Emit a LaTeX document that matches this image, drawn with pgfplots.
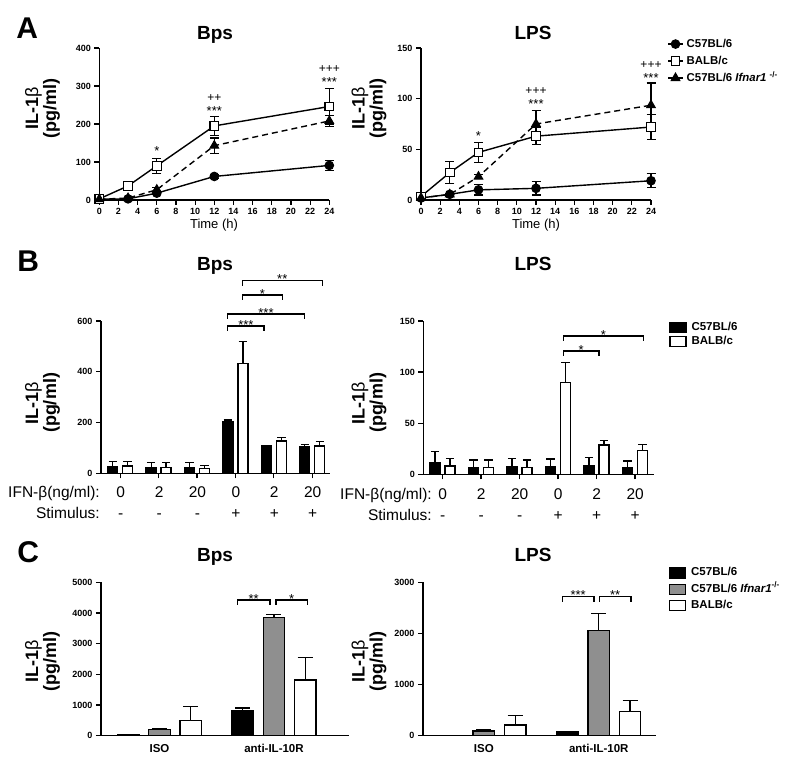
\documentclass[border=0pt]{standalone}
\usepackage{pgfplots}
\pgfplotsset{compat=1.18}
\usepackage{fontspec}
\setmainfont{Liberation Sans}
\newcommand{\fs}[1]{\fontsize{#1}{#1}\selectfont}
\definecolor{gbar}{RGB}{143,143,143}
\pgfplotsset{
  base/.style={
    scale only axis, anchor=south west, clip=false,
    axis lines=left, axis line style={line width=1.4pt,-},
    tick style={black, line width=1.2pt},
    tick align=outside, major tick length=5pt,
    tick label style={font=\fs{9}\bfseries},
    /pgf/number format/assume math mode=true,
    /pgf/number format/1000 sep={},
    scaled y ticks=false,
  },
  aplot/.style={black, line width=1.4pt,
    error bars/y dir=both, error bars/y explicit,
    error bars/error bar style={line width=1.2pt, solid},
    error bars/error mark options={rotate=90, mark size=4.5pt, line width=1.2pt, solid}},
  bplot/.style={ybar, bar width=10pt, bar shift=0pt, draw=black, line width=1.3pt,
    error bars/y dir=plus, error bars/y explicit,
    error bars/error bar style={line width=1.2pt},
    error bars/error mark options={rotate=90, mark size=4.2pt, line width=1.2pt}},
  cplot/.style={ybar, bar width=21.5pt, bar shift=0pt, draw=black, line width=1.3pt,
    error bars/y dir=plus, error bars/y explicit,
    error bars/error bar style={line width=1.2pt},
    error bars/error mark options={rotate=90, mark size=7.5pt, line width=1.2pt}},
  boxlegend/.style={legend image code/.code={\draw[##1, line width=1.3pt] (0pt,-5pt) rectangle (16pt,5pt);}},
}
\newcommand{\brk}[4]{%
  \draw[line width=1.1pt] (#1,{763-#3-5}) -- (#1,{763-#3}) -- (#2,{763-#3}) -- (#2,{763-#3-5});
  \node[font=\fs{13}, anchor=base, inner sep=0pt] at ({(#1+#2)/2},{763-#3-3.2}) {#4};}
\newcommand{\st}[3]{\node[font=\fs{13}, anchor=base, inner sep=0pt] at (#1,{763-#2-7.5}) {#3};}
\newcommand{\pl}[3]{\node[font=\fs{12}, anchor=base, inner sep=0pt] at (#1,{763-#2-4.2}) {#3};}
\newcommand{\ylab}[2]{\node[font=\fs{18}\bfseries, rotate=90, align=center, inner sep=0pt] at (#1,#2) {IL-1\textmd{β}\\[0pt](pg/ml)};}
\begin{document}
\begin{tikzpicture}[x=1pt,y=1pt]
\path[use as bounding box, fill=white] (0,0) rectangle (800,763);

% ---------------- Panel A, Bps
\begin{axis}[base, at={(99.3pt,563pt)}, width=230pt, height=152pt,
  xmin=0, xmax=24, ymin=0, ymax=400, xtick={0,2,...,24}, ytick={0,100,...,400}]
\addplot[aplot, mark=*, mark size=4.3pt, mark options={solid, fill=black, line width=1pt}]
 coordinates {(0,2)+-(0,1) (3,3)+-(0,2) (6,18)+-(0,4) (12,62)+-(0,5) (24,91)+-(0,13)};
\addplot[aplot, mark=square*, mark size=4.3pt, mark options={solid, fill=white, line width=1.1pt}]
 coordinates {(0,3)+-(0,3) (3,37)+-(0,4) (6,90)+-(0,20) (12,195)+-(0,25) (24,246)+-(0,48)};
\addplot[aplot, dash pattern=on 6pt off 4pt, mark=triangle*, mark size=5pt, mark options={solid, fill=black, line width=1pt}]
 coordinates {(0,2)+-(0,1) (3,5)+-(0,2) (6,27)+-(0,5) (12,143)+-(0,20) (24,208)+-(0,14)};
\end{axis}

% ---------------- Panel A, LPS
\begin{axis}[base, at={(421pt,563pt)}, width=230pt, height=152pt,
  xmin=0, xmax=24, ymin=0, ymax=150, xtick={0,2,...,24}, ytick={0,50,100,150},
  legend style={at={(1.07,1.06)}, anchor=north west, draw=none, fill=none,
    font=\fs{11.4}\bfseries, row sep=7pt, inner sep=0pt, column sep=2pt,
    nodes={inner ysep=0pt, inner xsep=1pt, text height=8pt, text depth=2pt}},
  legend cell align=left,
  legend image code/.code={\draw[mark repeat=2,mark phase=2,#1] plot coordinates {(0pt,0pt) (7.5pt,0pt) (15pt,0pt)};}]
\addplot[aplot, mark=*, mark size=4.3pt, mark options={solid, fill=black, line width=1pt}]
 coordinates {(0,2)+-(0,1) (3,5.6)+-(0,1) (6,10)+-(0,5) (12,11.5)+-(0,6.5) (24,19)+-(0,7)};
\addplot[aplot, mark=square*, mark size=4.3pt, mark options={solid, fill=white, line width=1.1pt}]
 coordinates {(0,3.5)+-(0,2) (3,27)+-(0,11) (6,47)+-(0,10) (12,63)+-(0,8.5) (24,72)+-(0,12)};
\addplot[aplot, dash pattern=on 6pt off 4pt, mark=triangle*, mark size=5pt, mark options={solid, fill=black, line width=1pt}]
 coordinates {(0,2)+-(0,1) (3,5.5)+-(0,1) (6,23)+-(0,2) (12,75)+-(0,13) (24,93.5)+-(0,22)};
\legend{C57BL/6, BALB/c, C57BL/6 \textit{Ifnar1} \textsuperscript{-/-}}
\end{axis}

% ---------------- Panel B, Bps
\begin{axis}[base, at={(101pt,289.7pt)}, width=228.5pt, height=152.3pt,
  xmin=-0.5, xmax=5.45, ymin=0, ymax=600, xtick={0,...,5}, xticklabels={,,,,,}, ytick={0,200,400,600}]
\addplot[bplot, fill=black] coordinates {(-0.195,26)+-(0,20) (0.805,22)+-(0,20) (1.805,22)+-(0,20) (2.805,203)+-(0,7) (3.805,107)+-(0,4) (4.805,104)+-(0,9)};
\addplot[bplot, fill=white] coordinates {(0.195,29)+-(0,17) (1.195,22)+-(0,20) (2.195,18)+-(0,13) (3.195,433)+-(0,86) (4.195,127)+-(0,15) (5.195,108)+-(0,17)};
\end{axis}

% ---------------- Panel B, LPS
\begin{axis}[base, at={(423.3pt,288.7pt)}, width=230.6pt, height=153.3pt,
  xmin=-0.5, xmax=5.49, ymin=0, ymax=150, xtick={0,...,5}, xticklabels={,,,,,}, ytick={0,50,100,150},
  boxlegend, legend style={at={(1.0655,0.9954)}, anchor=north west, draw=none, fill=none,
    font=\fs{11.5}\bfseries, row sep=2.5pt, inner sep=0pt, column sep=4pt,
    nodes={inner ysep=0pt, inner xsep=1pt, text height=8pt, text depth=2pt}},
  legend cell align=left]
\addplot[bplot, fill=black] coordinates {(-0.195,11.4)+-(0,10.6) (0.805,6.8)+-(0,7.2) (1.805,7.8)+-(0,7.8) (2.805,7.8)+-(0,7.2) (3.805,8.5)+-(0,7.8) (4.805,6.5)+-(0,6.5)};
\addplot[bplot, fill=white] coordinates {(0.195,8)+-(0,7.6) (1.195,6.8)+-(0,7.2) (2.195,6.8)+-(0,7.2) (3.195,89.7)+-(0,19.5) (4.195,28.7)+-(0,4.3) (5.195,23)+-(0,6.3)};
\legend{C57BL/6, BALB/c}
\end{axis}

% ---------------- Panel C, Bps
\begin{axis}[base, at={(101pt,27.3pt)}, width=248.3pt, height=153.4pt,
  xmin=-0.511, xmax=1.658, ymin=0, ymax=5000, xtick={0,1}, xticklabels={ISO,anti-IL-10R},
  xticklabel style={font=\fs{11.5}\bfseries}, xtick style={draw=none},
  ytick={0,1000,...,5000}]
\addplot[cplot, fill=black] coordinates {(-0.273,30)+-(0,15) (0.727,830)+-(0,70)};
\addplot[cplot, fill=gbar] coordinates {(0,200)+-(0,45) (1,3850)+-(0,100)};
\addplot[cplot, fill=white] coordinates {(0.273,500)+-(0,460) (1.273,1820)+-(0,720)};
\end{axis}

% ---------------- Panel C, LPS
\begin{axis}[base, at={(423pt,27.3pt)}, width=233.1pt, height=153.4pt,
  xmin=-0.53, xmax=1.499, ymin=0, ymax=3000, xtick={0,1}, xticklabels={ISO,anti-IL-10R},
  xticklabel style={font=\fs{11.5}\bfseries}, xtick style={draw=none},
  ytick={0,1000,2000,3000},
  boxlegend, legend style={at={(1.054,1.0997)}, anchor=north west, draw=none, fill=none,
    font=\fs{11.5}\bfseries, row sep=5pt, inner sep=0pt, column sep=4pt,
    nodes={inner ysep=0pt, inner xsep=1pt, text height=8pt, text depth=2pt}},
  legend cell align=left]
\addplot[cplot, fill=black] coordinates {(-0.272,0)+-(0,0) (0.728,75)+-(0,15)};
\addplot[cplot, fill=gbar] coordinates {(0,90)+-(0,30) (1,2060)+-(0,330)};
\addplot[cplot, fill=white] coordinates {(0.272,210)+-(0,190) (1.272,475)+-(0,215)};
\legend{C57BL/6, C57BL/6 \textit{Ifnar1}\textsuperscript{-/-}, BALB/c}
\end{axis}

% ---------------- texts
\node[font=\fs{30}\bfseries, anchor=base, inner sep=0pt] at (27.3,724.7) {A};
\node[font=\fs{30}\bfseries, anchor=base, inner sep=0pt] at (28.3,491.3) {B};
\node[font=\fs{30}\bfseries, anchor=base, inner sep=0pt] at (28.3,200) {C};
\foreach \yy in {723.7,492.3,201.3} {
  \node[font=\fs{19}\bfseries, anchor=base, inner sep=0pt] at (215,\yy) {Bps};
  \node[font=\fs{19}\bfseries, anchor=base, inner sep=0pt] at (533,\yy) {LPS};
}
\ylab{42.5}{654.5}\ylab{369}{654.5}
\ylab{42.5}{360}\ylab{369}{360}
\ylab{42.5}{101.5}\ylab{369}{101.5}
\node[font=\fs{13}, anchor=base, inner sep=0pt] at (214,534.7) {Time (h)};
\node[font=\fs{13}, anchor=base, inner sep=0pt] at (536,534.7) {Time (h)};

% B row labels
\node[font=\fs{15.5}, anchor=base east, inner sep=0pt] at (100,265.6) {IFN-β(ng/ml):};
\node[font=\fs{15.5}, anchor=base east, inner sep=0pt] at (100,244.3) {Stimulus:};
\node[font=\fs{15.5}, anchor=base east, inner sep=0pt] at (432,263.8) {IFN-β(ng/ml):};
\node[font=\fs{15.5}, anchor=base east, inner sep=0pt] at (432,242.1) {Stimulus:};
\foreach \xx/\lab/\sg in {120.7/0/-,159.1/2/-,197.5/20/-,235.9/0/+,274.3/2/+,312.7/20/+} {
  \node[font=\fs{15.5}, anchor=base, inner sep=0pt] at (\xx,265.6) {\lab};
  \node[font=\fs{15.5}, anchor=base, inner sep=0pt] at (\xx,244.3) {\sg};
}
\foreach \xx/\lab/\sg in {442.7/0/-,481.2/2/-,519.7/20/-,558.2/0/+,596.7/2/+,635.2/20/+} {
  \node[font=\fs{15.5}, anchor=base, inner sep=0pt] at (\xx,263.8) {\lab};
  \node[font=\fs{15.5}, anchor=base, inner sep=0pt] at (\xx,242.1) {\sg};
}

% A significance marks
\st{156.8}{148}{*}
\st{214.3}{107.7}{***}\pl{214.3}{97.7}{++}
\st{329.3}{79}{***}\pl{329.3}{68.3}{+++}
\st{478.5}{133.3}{*}
\st{536}{101}{***}\pl{536}{90}{+++}
\st{651}{75}{***}\pl{651}{64}{+++}

% brackets
\brk{227.7}{264}{326}{***}
\brk{227.7}{304.3}{314}{***}
\brk{242.3}{282.7}{295}{*}
\brk{242.3}{322.3}{280.7}{**}
\brk{563.3}{643.3}{336}{*}
\brk{563.3}{599}{351}{*}
\brk{237.3}{270}{600}{**}
\brk{276}{307.3}{600}{*}
\brk{562.3}{594}{596.7}{***}
\brk{599.3}{631}{596.7}{**}
\end{tikzpicture}
\end{document}
